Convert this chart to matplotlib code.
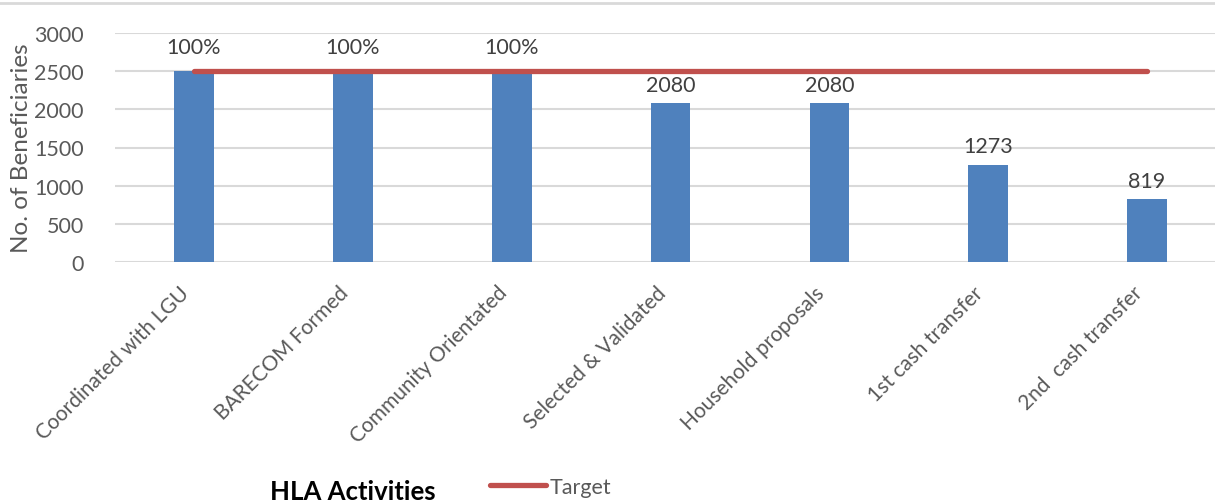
import matplotlib
matplotlib.use("Agg")
import matplotlib.pyplot as plt
from matplotlib.lines import Line2D
from matplotlib.transforms import ScaledTranslation, blended_transform_factory

plt.rcParams['font.family'] = ['Lato', 'DejaVu Sans']

categories = ["Coordinated with LGU", "BARECOM Formed", "Community Orientated",
              "Selected & Validated", "Household proposals", "1st cash transfer",
              "2nd  cash transfer"]
values = [2500, 2500, 2500, 2080, 2080, 1273, 819]
labels = ["100%", "100%", "100%", "2080", "2080", "1273", "819"]
target = [2500] * 7
yticks = [0, 500, 1000, 1500, 2000, 2500, 3000]

W, H = 1215, 502
fig = plt.figure(figsize=(W / 100, H / 100), dpi=100)
left, right = 114.5, 1226.5
top, bottom = 34, 263
ax = fig.add_axes([left / W, 1 - bottom / H, (right - left) / W, (bottom - top) / H])

x = list(range(len(categories)))
ax.bar(x, values, width=0.25, color="#4F81BD", zorder=2)
ax.plot(x, target, color="#C0504D", lw=3.8, solid_capstyle="round", zorder=3, label="Target")

for xi, v, lab in zip(x, values, labels):
    off = 10 if lab.endswith('%') else 6
    ax.annotate(lab, (xi, v), xytext=(0, off), textcoords="offset points",
                ha="center", va="bottom", fontsize=15.5, color="#404040")

ax.set_xlim(-0.5, len(categories) - 0.5)
ax.set_ylim(0, 3000)
ax.set_yticks(yticks)
ax.set_yticklabels([str(t) for t in yticks], fontsize=15.5, color="#595959")
ax.set_xticks(x)
ax.set_xticklabels([])
trans = blended_transform_factory(ax.transData, ax.transAxes) + \
    ScaledTranslation(-15 / 100, -20 / 100, fig.dpi_scale_trans)
for xi, c in zip(x, categories):
    ax.text(xi, 0, c, transform=trans, rotation=45, ha="right", va="top",
            rotation_mode="anchor", fontsize=15, color="#595959", clip_on=False)
ax.tick_params(axis="both", length=0)
ax.tick_params(axis="y", pad=22)
for s in ax.spines.values():
    s.set_visible(False)
ax.yaxis.grid(True, color="#D9D9D9", lw=1.5, zorder=0)
ax.set_axisbelow(True)
ax.set_ylabel("No. of Beneficiaries", fontsize=17.5, color="#595959", labelpad=2)

fig.text(353 / W, 1 - 492 / H, "HLA Activities", fontsize=18.5, fontweight="bold",
         ha="center", va="center", color="black")

handle = Line2D([], [], color="#C0504D", lw=3.8, solid_capstyle="round")
fig.legend([handle], ["Target"], loc="center left", bbox_to_anchor=(490 / W, 1 - 488 / H),
           frameon=False, fontsize=15.5, handlelength=2.6, handletextpad=0.15,
           labelcolor="#595959", borderaxespad=0, borderpad=0)

fig.add_artist(Line2D([0, 1], [1 - 4 / H, 1 - 4 / H], color="#D9D9D9", lw=2,
                      transform=fig.transFigure))

fig.savefig("out.png", dpi=100)
